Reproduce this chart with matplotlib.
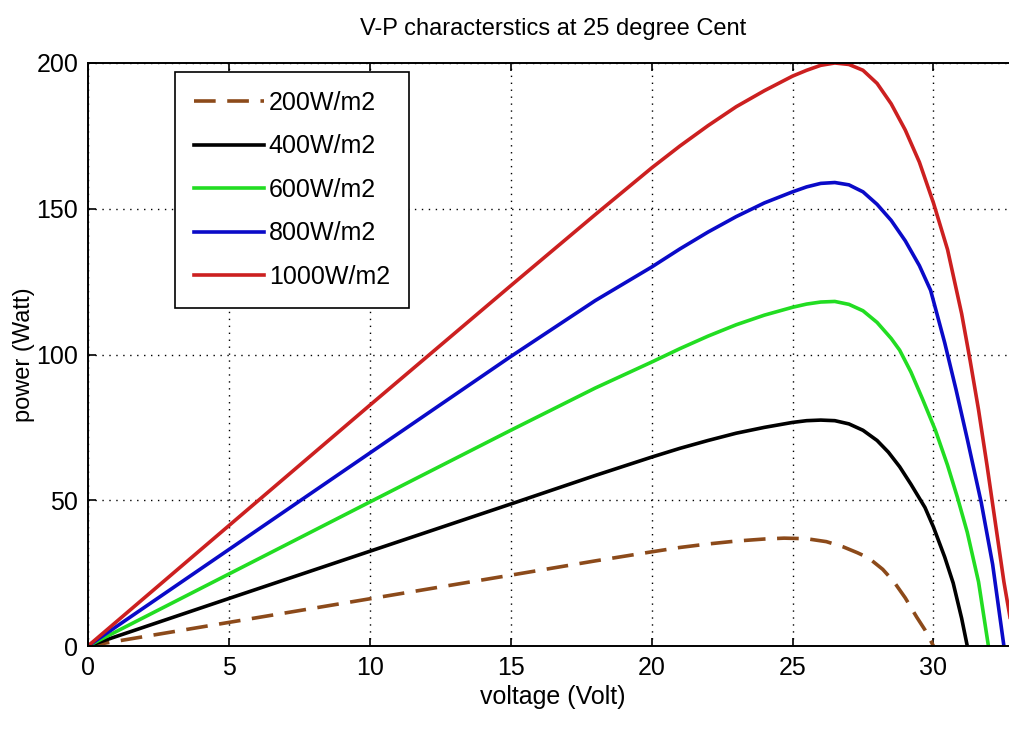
import matplotlib
matplotlib.use('Agg')
import matplotlib.pyplot as plt

# valores (tensão em V, potência em W)
v200 = [0, 5, 10, 15, 18, 20, 21, 22, 23, 24, 24.7, 25.5, 26.2, 26.8, 27.3, 27.7, 28.2, 28.6, 29.0, 29.4, 29.7, 30.0]
p200 = [0, 8.1, 16.2, 24.3, 29.2, 32.3, 33.8, 35.0, 36.0, 36.7, 37.0, 36.8, 35.8, 34.0, 32.0, 30.2, 26.3, 22.0, 16.5, 10.0, 5.5, 0]

v400 = [0, 5, 10, 15, 18, 20, 21, 22, 23, 24, 25, 25.5, 26, 26.5, 27, 27.5, 28, 28.4, 28.8, 29.2,
        29.7, 30.0, 30.4, 30.7, 31.0, 31.2]
p400 = [0, 16.3, 32.5, 48.7, 58.5, 64.8, 67.8, 70.5, 73.0, 75.0, 76.7, 77.3, 77.5, 77.3, 76.2, 74.0,
        70.5, 66.5, 61.5, 55.5, 47.5, 40.8, 30.5, 21.6, 9.5, 0]

v600 = [0, 5, 10, 15, 18, 20, 21, 22, 23, 24, 25, 25.5, 26, 26.5, 27, 27.5, 28, 28.5, 28.8, 29.2,
        29.6, 30.07, 30.5, 30.85, 31.2, 31.6, 31.95]
p600 = [0, 24.7, 49.4, 74.0, 88.5, 97.4, 102.0, 106.3, 110.2, 113.5, 116.2, 117.3, 118.0, 118.2, 117.2, 115.0,
        111.0, 105.5, 101.5, 94.0, 85.0, 74.0, 62.0, 51.0, 39.0, 22.0, 0]

v800 = [0, 5, 10, 15, 18, 20, 21, 22, 23, 24, 25, 25.5, 26, 26.5, 27, 27.5, 28, 28.5, 29, 29.5,
        29.9, 30.4, 30.8, 31.2, 31.7, 32.1, 32.5]
p800 = [0, 33.1, 66.2, 99.3, 118.5, 130.0, 136.2, 142.0, 147.3, 152.0, 155.8, 157.5, 158.7, 159.0, 158.2, 155.8,
        151.5, 146.0, 139.0, 130.5, 122.0, 104.0, 88.0, 71.0, 49.0, 28.0, 0]

v1000 = [0, 5, 10, 15, 18, 20, 21, 22, 23, 24, 25, 25.5, 26, 26.5, 27, 27.5, 28, 28.5, 29, 29.5,
         30, 30.5, 31, 31.3, 31.6, 31.9, 32.2, 32.5, 32.75, 32.9]
p1000 = [0, 41.3, 82.6, 123.6, 148.0, 164.0, 171.5, 178.5, 185.0, 190.5, 195.5, 197.5, 199.2, 200.0, 199.5, 197.5,
         193.0, 186.0, 177.0, 166.0, 152.0, 136.0, 114.0, 98.0, 81.0, 62.0, 42.0, 22.0, 8.0, 0]

series = [
    (v200, p200, '200W/m2', '#8c4a1a', '--'),
    (v400, p400, '400W/m2', 'black', '-'),
    (v600, p600, '600W/m2', '#22dd22', '-'),
    (v800, p800, '800W/m2', '#0a0ac8', '-'),
    (v1000, p1000, '1000W/m2', '#cc2020', '-'),
]

xticks = [0, 5, 10, 15, 20, 25, 30]
yticks = [0, 50, 100, 150, 200]

plt.rcParams['font.family'] = ['Liberation Sans', 'DejaVu Sans']

fig = plt.figure(figsize=(10.09, 7.31), dpi=100)
ax = fig.add_axes([88/1009, 85/731, 930/1009, 583/731])

for v, p, lab, cor, ls in series:
    if ls == '--':
        ax.plot(v, p, color=cor, lw=2.6, ls=(0, (6, 3.2)), label=lab)
    else:
        ax.plot(v, p, color=cor, lw=2.6, ls=ls, label=lab)

ax.set_xlim(0, 33)
ax.set_ylim(0, 200)
ax.set_xticks(xticks)
ax.set_yticks(yticks)
ax.tick_params(direction='in', length=6, width=1.2, top=True, right=True,
               labelsize=18, pad=7)
ax.grid(True, linestyle=(0, (1, 4)), color='black', lw=1.0)
for s in ax.spines.values():
    s.set_linewidth(1.4)

ax.set_title('V-P characterstics at 25 degree Cent', fontsize=17, pad=20)
ax.set_xlabel('voltage (Volt)', fontsize=18, labelpad=4)
ax.set_ylabel('power (Watt)', fontsize=17)
ax.yaxis.set_label_coords(-0.057, 0.5)

leg = ax.legend(loc='upper left', bbox_to_anchor=(175/1009, 1 - 72/731),
                bbox_transform=fig.transFigure, fontsize=18, handlelength=2.8,
                handletextpad=0.2, labelspacing=0.78, borderpad=0.75,
                fancybox=False, framealpha=1, borderaxespad=0)
leg.get_frame().set_edgecolor('black')
leg.get_frame().set_linewidth(1.2)

fig.savefig('out.png', dpi=100)
